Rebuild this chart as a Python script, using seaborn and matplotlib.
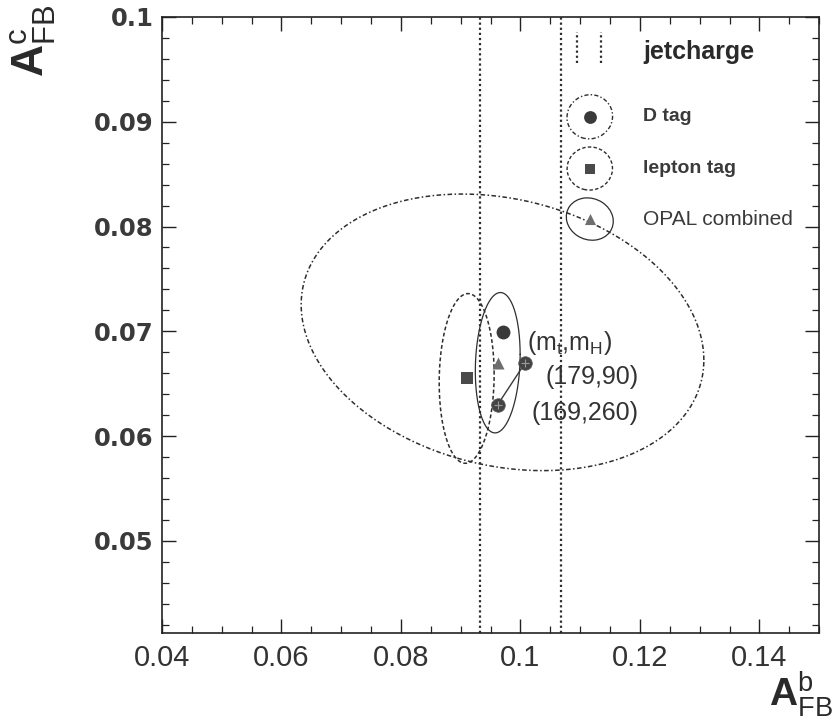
import numpy as np
import pandas as pd
import seaborn as sns
import matplotlib
matplotlib.use("Agg")
import matplotlib.pyplot as plt
from matplotlib.patches import Ellipse
from matplotlib.ticker import MultipleLocator
from matplotlib import font_manager

# ---------------- data ----------------
methods = ["D tag", "lepton tag", "OPAL combined"]
afb_b = [0.0970, 0.0910, 0.0962]
afb_c = [0.0699, 0.0655, 0.0670]
sig_b = [0.0337, 0.0046, 0.00375]
sig_c = [0.0132, 0.0081, 0.0067]
rho = [-0.2, 0.05, 0.12]
jetcharge_b = [0.0933, 0.1068]
sm_labels = ["(179,90)", "(169,260)"]
sm_b = [0.1008, 0.0962]
sm_c = [0.0670, 0.0630]
xtick_vals = [0.04, 0.06, 0.08, 0.10, 0.12, 0.14]
xtick_labels = ["0.04", "0.06", "0.08", "0.1", "0.12", "0.14"]
ytick_vals = [0.05, 0.06, 0.07, 0.08, 0.09, 0.10]
ytick_labels = ["0.05", "0.06", "0.07", "0.08", "0.09", "0.1"]

# ---------------- style ----------------
sns.set_theme(style="ticks")
plt.rcParams["font.family"] = ["Liberation Sans", "DejaVu Sans"]
plt.rcParams["mathtext.fontset"] = "custom"
plt.rcParams["mathtext.rm"] = "Liberation Sans"
plt.rcParams["mathtext.sf"] = "Liberation Sans"
plt.rcParams["mathtext.bf"] = "Liberation Sans:bold"

names = {f.name for f in font_manager.fontManager.ttflist}
if "Liberation Sans Narrow" in names:
    xfont = dict(family="Liberation Sans Narrow", size=23)
else:
    xfont = dict(family="Liberation Sans", size=21)

ink = "#2e2e2e"
fig = plt.figure(figsize=(8.34, 7.2), dpi=100)
fig.patch.set_facecolor("white")
ax = fig.add_axes([0.1942, 0.1208, 0.788, 0.8556])
ax.set_facecolor("white")

# jetcharge band (vertical dotted lines)
for xv in jetcharge_b:
    ax.axvline(xv, color=ink, lw=1.6, ls=(0, (1, 1.3)), zorder=1)

# error ellipses
t = np.linspace(0, 2 * np.pi, 400)
styles = [dict(ls=(0, (3, 1.6, 1, 1.6)), lw=1.1),
          dict(ls=(0, (2.5, 1.6)), lw=1.1),
          dict(ls="-", lw=0.9)]
for i, m in enumerate(methods):
    ex = afb_b[i] + sig_b[i] * np.cos(t)
    ey = afb_c[i] + sig_c[i] * (rho[i] * np.cos(t) + np.sqrt(1 - rho[i] ** 2) * np.sin(t))
    df = pd.DataFrame({"x": ex, "y": ey})
    sns.lineplot(data=df, x="x", y="y", sort=False, estimator=None, ax=ax,
                 color=ink, zorder=2, **styles[i])

# SM predictions
sm_df = pd.DataFrame({"b": sm_b, "c": sm_c, "lab": sm_labels})
sns.lineplot(data=sm_df, x="b", y="c", sort=False, estimator=None, ax=ax,
             color="#3a3a3a", lw=1.0, zorder=3)
sns.scatterplot(data=sm_df, x="b", y="c", ax=ax, marker="o", s=95,
                color="#444444", edgecolor="#555555", linewidth=0.5, zorder=4)
sns.scatterplot(data=sm_df, x="b", y="c", ax=ax, marker="+", s=40,
                color="#9a9a9a", linewidth=0.8, zorder=5)

# measurement points
pts = pd.DataFrame({"b": afb_b, "c": afb_c, "m": methods})
mk = {"D tag": "o", "lepton tag": "s", "OPAL combined": "^"}
col = {"D tag": "#3a3a3a", "lepton tag": "#4a4a4a", "OPAL combined": "#6e6e6e"}
sz = {"D tag": 100, "lepton tag": 70, "OPAL combined": 75}
for m in methods:
    sub = pts[pts.m == m]
    sns.scatterplot(data=sub, x="b", y="c", ax=ax, marker=mk[m], s=sz[m],
                    color=col[m], edgecolor=col[m], linewidth=0, zorder=5)

# annotations
tcol = "#333333"
ax.annotate(r"(m$_\mathregular{t}$,m$_\mathregular{H}$)", xy=(sm_b[0], sm_c[0]),
            xytext=(1.5, 14), textcoords="offset points", ha="left", va="center",
            fontsize=18, color=tcol)
ax.annotate(sm_labels[0], xy=(sm_b[0], sm_c[0]), xytext=(14.5, -10),
            textcoords="offset points", ha="left", va="center", fontsize=18, color=tcol)
ax.annotate(sm_labels[1], xy=(sm_b[1], sm_c[1]), xytext=(24, -6),
            textcoords="offset points", ha="left", va="center", fontsize=18, color=tcol)

# manual legend (axes fraction)
tr = ax.transAxes
for xl in [0.632, 0.668]:
    ax.plot([xl, xl], [0.925, 0.976], transform=tr, color=ink, lw=1.6,
            ls=(0, (1, 1.3)), clip_on=False)
ax.text(0.732, 0.943, "jetcharge", transform=tr, ha="left", va="center",
        fontsize=18, fontweight="bold", color="#2a2a2a")
leg_y = [0.838, 0.754, 0.672]
leg_style = [dict(ls=(0, (3, 1.6, 1, 1.6)), lw=1.0, angle=-20, w=0.069, h=0.072),
             dict(ls=(0, (2.5, 1.6)), lw=1.0, angle=-15, w=0.069, h=0.070),
             dict(ls="-", lw=0.9, angle=-35, w=0.074, h=0.066)]
leg_fw = ["bold", "bold", "normal"]
leg_fs = [14, 14, 15]
for i, m in enumerate(methods):
    st = leg_style[i]
    ax.add_patch(Ellipse((0.651, leg_y[i]), st["w"], st["h"], angle=st["angle"],
                         transform=tr, fill=False, ec=ink, lw=st["lw"], ls=st["ls"]))
    ax.scatter([0.651], [leg_y[i]], transform=tr, marker=mk[m], s=sz[m] * 0.85,
               color=col[m], linewidths=0, zorder=6)
    ax.text(0.732, leg_y[i], m, transform=tr, ha="left", va="center",
            fontsize=leg_fs[i], fontweight=leg_fw[i], color="#3a3a3a")

# axes
ax.set_xlim(0.04, 0.15)
ax.set_ylim(0.0412, 0.10)
ax.set_xticks(xtick_vals, labels=xtick_labels)
ax.set_yticks(ytick_vals, labels=ytick_labels)
ax.xaxis.set_minor_locator(MultipleLocator(0.005))
ax.yaxis.set_minor_locator(MultipleLocator(0.002))
ax.tick_params(which="both", direction="in", top=True, right=True, colors="#222222")
ax.tick_params(which="major", length=10, width=1.0)
ax.tick_params(which="minor", length=5, width=0.9)
ax.tick_params(axis="x", pad=8)
ax.tick_params(axis="y", pad=6)
for lab in ax.get_xticklabels():
    lab.set_fontfamily(xfont["family"])
    lab.set_fontsize(xfont["size"])
    lab.set_color("#333333")
for lab in ax.get_yticklabels():
    lab.set_fontfamily("DejaVu Sans")
    lab.set_fontweight("bold")
    lab.set_fontsize(17.5)
    lab.set_color("#3a3a3a")
for sp in ax.spines.values():
    sp.set_color("#222222")
    sp.set_linewidth(1.2)
ax.set_xlabel("")
ax.set_ylabel("")

fig.text(0.998, 0.002, r"$\mathbf{A}_{\mathsf{FB}}^{\mathsf{b}}$", ha="right", va="bottom",
         fontsize=28, color="#2a2a2a")
fig.text(0.040, 0.994, r"$\mathbf{A}_{\mathsf{FB}}^{\mathsf{c}}$", ha="center", va="top",
         rotation=90, fontsize=32, color="#2a2a2a")

fig.savefig("out.png", dpi=100)
